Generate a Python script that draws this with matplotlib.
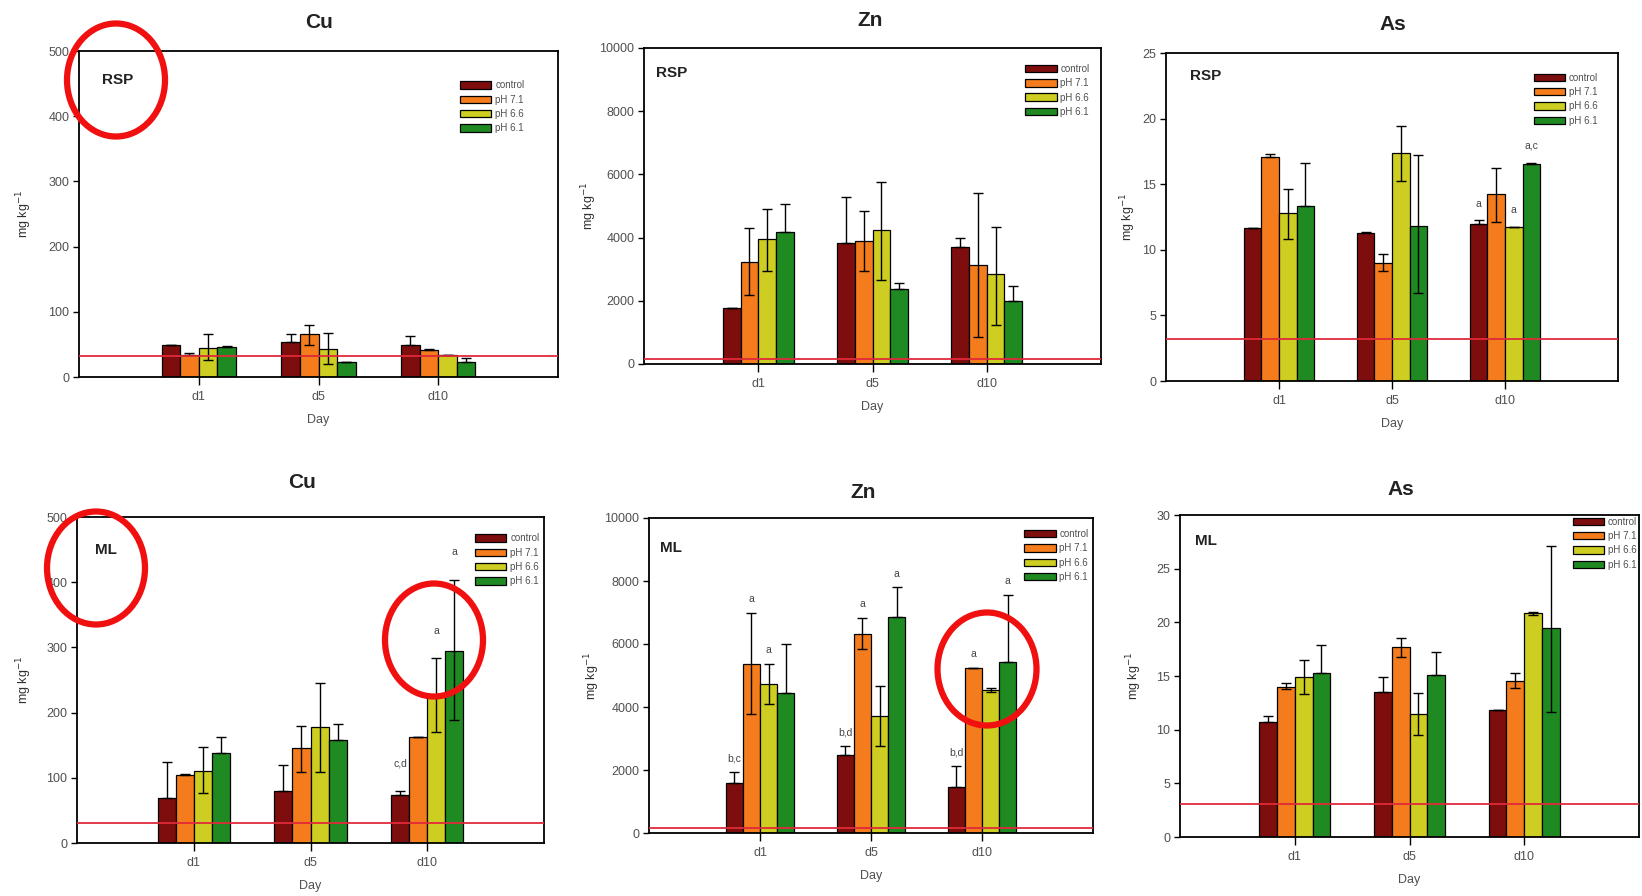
import numpy as np
import matplotlib.pyplot as plt
from matplotlib.patches import Ellipse

plt.rcParams['font.family'] = ['Liberation Sans', 'DejaVu Sans']

days = ['d1', 'd5', 'd10']
treatments = ['control', 'pH 7.1', 'pH 6.6', 'pH 6.1']
colors = ['#7e0d0d', '#f47c1c', '#cdcd22', '#1f8a22']

# mean values, rows = treatment, columns = day
cu_rsp = [[48.6, 54, 49], [33, 66.5, 42], [44.5, 42.5, 34], [46, 23, 23]]
cu_rsp_up = [[0, 11.5, 13.4], [4, 12.5, 1.5], [21, 25.5, 0], [2, 0, 6.7]]
cu_rsp_dn = [[0, 0, 0], [0, 18, 0], [19, 23, 0], [0, 0, 0]]

zn_rsp = [[1760, 3835, 3710], [3235, 3900, 3130], [3940, 4235, 2835], [4180, 2360, 2000]]
zn_rsp_up = [[0, 1455, 280], [1055, 940, 2285], [950, 1530, 1505], [880, 210, 465]]
zn_rsp_dn = [[0, 0, 0], [1055, 950, 2265], [990, 1580, 1605], [0, 0, 0]]

as_rsp = [[11.63, 11.25, 11.94], [17.06, 8.96, 14.26], [12.78, 17.36, 11.76], [13.37, 11.8, 16.52]]
as_rsp_up = [[0, 0.1, 0.3], [0.25, 0.7, 1.95], [1.85, 2.1, 0], [3.25, 5.45, 0.13]]
as_rsp_dn = [[0, 0, 0], [0, 0.55, 2.15], [1.95, 2.15, 0], [0, 5.13, 0]]

cu_ml = [[69, 80, 74], [105, 146, 162], [111, 177.5, 226], [138, 157.5, 295]]
cu_ml_up = [[56, 40, 6], [1, 34, 0], [37, 68, 57], [25, 25, 108]]
cu_ml_dn = [[0, 0, 0], [0, 37.5, 0], [34, 69, 56], [0, 0, 106]]

zn_ml = [[1590, 2470, 1463], [5376, 6310, 5249], [4720, 3711, 4539], [4433, 6861, 5430]]
zn_ml_up = [[340, 290, 655], [1600, 530, 0], [635, 955, 60], [1580, 935, 2120]]
zn_ml_dn = [[0, 0, 0], [1610, 480, 0], [635, 955, 60], [0, 0, 0]]

as_ml = [[10.76, 13.55, 11.81], [14.02, 17.72, 14.55], [14.95, 11.44, 20.83], [15.26, 15.1, 19.43]]
as_ml_up = [[0.5, 1.37, 0], [0.3, 0.85, 0.7], [1.5, 1.93, 0.15], [2.6, 2.1, 7.7]]
as_ml_dn = [[0, 0, 0], [0.25, 0.93, 0.7], [1.65, 1.93, 0.15], [0, 0, 7.8]]

# reference limit lines
limit_rsp = [31.5, 170, 3.2]
limit_ml = [31, 160, 3.05]

# significance letters: (day index, treatment index, text)
as_rsp_letters = [(2, 0, 'a'), (2, 2, 'a'), (2, 3, 'a,c')]
cu_ml_letters = [(2, 0, 'c,d'), (2, 2, 'a'), (2, 3, 'a')]
zn_ml_letters = [(0, 0, 'b,c'), (0, 1, 'a'), (0, 2, 'a'), (1, 0, 'b,d'), (1, 1, 'a'),
                 (1, 3, 'a'), (2, 0, 'b,d'), (2, 1, 'a'), (2, 3, 'a')]

W, H = 1642, 896
fig = plt.figure(figsize=(W / 100, H / 100), dpi=100)


def rect(x0, y0, x1, y1):
    return [x0 / W, 1 - y1 / H, (x1 - x0) / W, (y1 - y0) / H]


def panel(box, means, up, dn, limit, ymax, ystep, title, title_xy, site, site_xy,
          leg_xy, ylab_off, letters=(), letter_off=10):
    ax = fig.add_axes(rect(*box))
    x = np.arange(1, 4)
    w = 0.155
    for i in range(4):
        xi = x + (i - 1.5) * w
        ax.bar(xi, means[i], w, color=colors[i], edgecolor='black', lw=0.9,
               label=treatments[i], zorder=2)
        ax.errorbar(xi, means[i], yerr=[dn[i], up[i]], fmt='none', ecolor='black',
                    elinewidth=1.0, capsize=3.5, capthick=1.0, zorder=3)
    for d, t, txt in letters:
        xt = x[d] + (t - 1.5) * w
        yt = means[t][d] + up[t][d]
        ax.annotate(txt, (xt, yt), xytext=(0, letter_off), textcoords='offset points',
                    ha='center', va='center', fontsize=7.5, color='#444444')
    ax.axhline(limit, color='#e02a3a', lw=1.3, zorder=4)

    ax.set_xlim(0, 4)
    ax.set_ylim(0, ymax)
    ax.set_yticks(np.arange(0, ymax + 1e-9, ystep))
    ax.set_xticks(x)
    ax.set_xticklabels(days)
    ax.tick_params(axis='y', direction='out', length=4, width=1, labelsize=9,
                   labelcolor='#505050', pad=3)
    ax.tick_params(axis='x', direction='inout', length=12, width=1, labelsize=9,
                   labelcolor='#505050', pad=4)
    for s in ax.spines.values():
        s.set_linewidth(1.3)

    ax.set_xlabel('Day', fontsize=9, color='#505050')
    ax.set_ylabel(r'mg kg$^{-1}$', fontsize=9, color='#303030')
    bw = box[2] - box[0]
    bh = box[3] - box[1]
    ax.xaxis.set_label_coords(0.5, -37 / bh)
    ax.yaxis.set_label_coords(-ylab_off / bw, 0.5)

    fig.text(title_xy[0] / W, 1 - title_xy[1] / H, title, fontsize=15,
             fontweight='bold', ha='center', va='center', color='#222222')
    ax.text(site_xy[0], site_xy[1], site, transform=ax.transAxes, fontsize=11,
            fontweight='bold', ha='left', va='center', color='#222222')
    leg = ax.legend(loc='upper right', bbox_to_anchor=leg_xy, frameon=False,
                    fontsize=7, handlelength=3.2, handleheight=0.8,
                    labelspacing=0.45, handletextpad=0.4, borderaxespad=0,
                    borderpad=0)
    for txt in leg.get_texts():
        txt.set_color('#505050')
    return ax


panel((79, 51, 558, 377), cu_rsp, cu_rsp_up, cu_rsp_dn, limit_rsp[0], 500, 100,
      'Cu', (319, 23), 'RSP', (0.048, 0.91), (0.93, 0.91), 45)
panel((644, 48, 1101, 364), zn_rsp, zn_rsp_up, zn_rsp_dn, limit_rsp[1], 10000, 2000,
      'Zn', (870, 20), 'RSP', (0.026, 0.92), (0.975, 0.95), 45)
panel((1166, 53, 1618, 381), as_rsp, as_rsp_up, as_rsp_dn, limit_rsp[2], 25, 5,
      'As', (1393, 24), 'RSP', (0.054, 0.93), (0.955, 0.94), 28,
      as_rsp_letters, 12)
panel((77, 517, 544, 843), cu_ml, cu_ml_up, cu_ml_dn, limit_ml[0], 500, 100,
      'Cu', (302, 482), 'ML', (0.038, 0.90), (0.99, 0.95), 43,
      cu_ml_letters, 20)
panel((649, 518, 1093, 833), zn_ml, zn_ml_up, zn_ml_dn, limit_ml[1], 10000, 2000,
      'Zn', (863, 492), 'ML', (0.025, 0.906), (0.99, 0.965), 47,
      zn_ml_letters, 10)
panel((1180, 515, 1639, 837), as_ml, as_ml_up, as_ml_dn, limit_ml[2], 30, 5,
      'As', (1401, 489), 'ML', (0.033, 0.92), (0.995, 0.995), 36)

# highlight rings
for cx, cy, ew, eh in [(116, 80, 98, 113), (96, 568, 98, 113),
                       (434, 640, 98, 113), (987, 669, 99, 113)]:
    fig.patches.append(Ellipse((cx / W, 1 - cy / H), ew / W, eh / H,
                               transform=fig.transFigure, fill=False,
                               edgecolor='#f01010', lw=4.5, zorder=10))

fig.savefig('out.png', dpi=100)
